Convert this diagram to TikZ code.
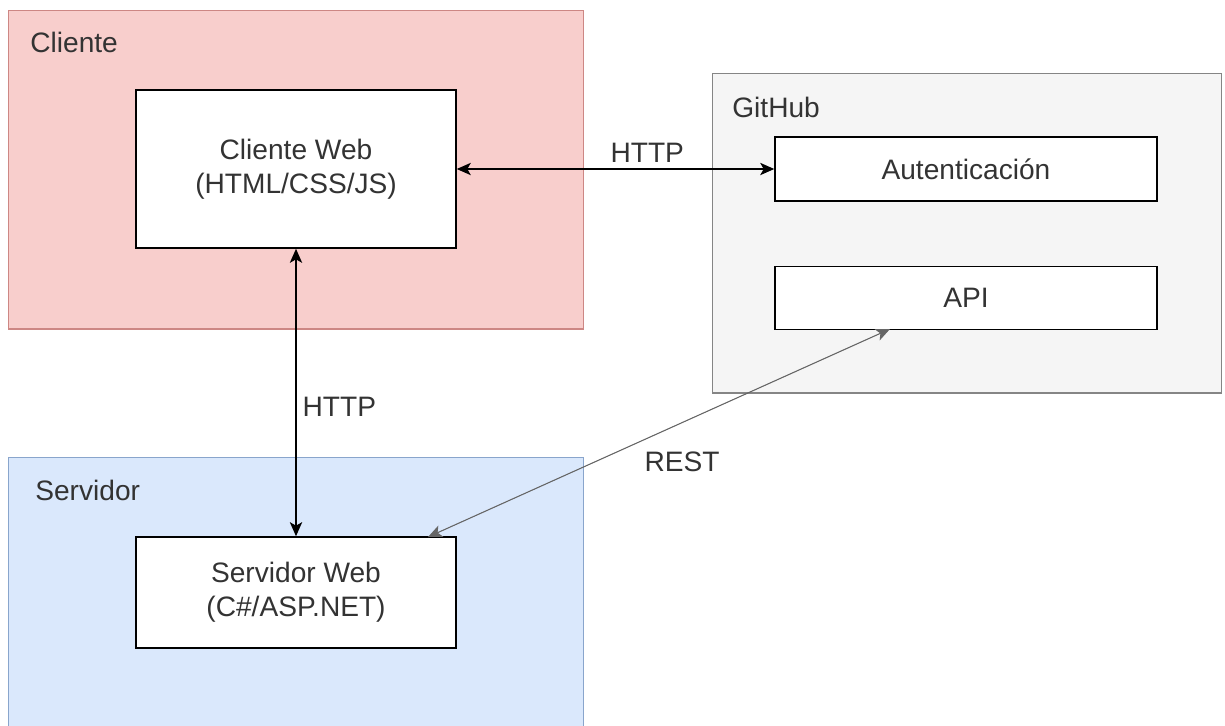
\documentclass[tikz,border=0pt]{standalone}
\usepackage{fontspec}
\setmainfont{Liberation Sans}
\usetikzlibrary{arrows.meta,positioning}
\definecolor{clientefill}{HTML}{F8CECC}
\definecolor{clientedraw}{HTML}{B85450}
\definecolor{githubfill}{HTML}{F5F5F5}
\definecolor{githubdraw}{HTML}{666666}
\definecolor{servidorfill}{HTML}{DAE8FC}
\definecolor{servidordraw}{HTML}{6C8EBF}
\definecolor{texto}{HTML}{333333}
\tikzset{>/.tip={Stealth[length=8pt,width=7pt,inset=2pt]}}
\tikzset{zona/.style={draw,line width=0.6pt,minimum width=#1}}
\tikzset{caja/.style={draw=black,fill=white,line width=0.9pt,align=center,minimum width=#1}}
\tikzset{titulo/.style={anchor=west,inner sep=0pt}}

\begin{document}
\begin{tikzpicture}[x=0.02cm,y=-0.02cm,font=\fontsize{16}{19.5}\selectfont,text=texto]
        \useasboundingbox (0,0) rectangle (1225,725);
        % zonas
        \node(cliente)[zona=11.52cm,minimum height=6.38cm,fill=clientefill,draw=clientedraw!70] at (296,169.5){};
        \node(github)[zona=10.2cm,minimum height=6.4cm,fill=githubfill,draw=githubdraw!80] at (967,233){};
        \node(servidor)[zona=11.52cm,minimum height=5.8cm,fill=servidorfill,draw=servidordraw!80] at (296,602){};
        \node(tcliente)[titulo] at (30,42){Cliente};
        \node(tgithub)[titulo] at (732,107){GitHub};
        \node(tservidor)[titulo] at (35,490){Servidor};
        % cajas
        \node(cweb)[caja=6.4cm,minimum height=3.16cm] at (296,169){Cliente Web\\(HTML/CSS/JS)};
        \node(auth)[caja=7.64cm,minimum height=1.28cm] at (966,169){Autenticación};
        \node(api)[caja=7.64cm,minimum height=1.26cm,below=2.58cm of auth.center,anchor=center]{API};
        \node(sweb)[caja=6.4cm,minimum height=2.22cm] at (296,592.5){Servidor Web\\(C\#/ASP.NET)};
        \coordinate(apib) at (890,329);
        \coordinate(swebt) at (428,537);
        \draw[<->,line width=0.85pt]
        (cweb) edge node[pos=0.6,above]{HTTP} (auth)
        (cweb) edge node[pos=0.55,right]{HTTP} (sweb);
        \draw[<->,line width=0.6pt,draw=githubdraw,fill=black]
        (apib) -- node[pos=0.45,below=0.45cm]{REST} (swebt);
      \end{tikzpicture}
\end{document}
